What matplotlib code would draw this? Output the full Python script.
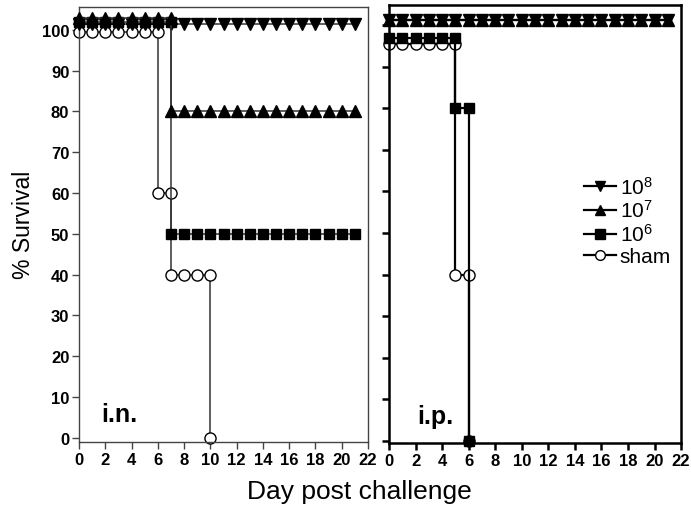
import matplotlib
matplotlib.use("Agg")
import matplotlib.pyplot as plt
from matplotlib.lines import Line2D

plt.rcParams['font.family'] = ['Liberation Sans', 'DejaVu Sans']
plt.rcParams['mathtext.default'] = 'regular'

# survival data, i.n. challenge (days, % survival; duplicate day = drop)
in_days_8 = list(range(0, 22))
in_surv_8 = [100] * 22
in_days_7 = list(range(0, 8)) + list(range(7, 22))
in_surv_7 = [100] * 8 + [80] * 15
in_days_6 = list(range(0, 8)) + list(range(7, 22))
in_surv_6 = [100] * 8 + [50] * 15
in_days_sham = [0, 1, 2, 3, 4, 5, 6, 6, 7, 7, 8, 9, 10, 10]
in_surv_sham = [100, 100, 100, 100, 100, 100, 100, 60, 60, 40, 40, 40, 40, 0]

# survival data, i.p. challenge
ip_days_8 = list(range(0, 22))
ip_surv_8 = [100] * 22
ip_days_7 = list(range(0, 22))
ip_surv_7 = [100] * 22
ip_days_6 = [0, 1, 2, 3, 4, 5, 5, 6, 6]
ip_surv_6 = [100, 100, 100, 100, 100, 100, 80, 80, 0]
ip_days_sham = [0, 1, 2, 3, 4, 5, 5, 6, 6]
ip_surv_sham = [100, 100, 100, 100, 100, 100, 40, 40, 0]

labels = ['$10^8$', '$10^7$', '$10^6$', 'sham']
markers = ['v', '^', 's', 'o']

# small vertical offsets so overlapping 100% curves stay visible
in_offsets = [1.5, 3.0, 2.0, -0.5]
ip_offsets = [1.2, 1.2, -3.2, -4.5]


def shift(vals, off):
    return [v + off if v == 100 else v for v in vals]


fig = plt.figure(figsize=(6.91, 5.10), dpi=100)
ax1 = fig.add_axes([0.1143, 0.1314, 0.4183, 0.853])
ax2 = fig.add_axes([0.5630, 0.1294, 0.4226, 0.8588])

tick_font = dict(family=['Liberation Sans Narrow', 'Liberation Sans', 'DejaVu Sans'],
                 weight='bold', size=12)


def draw(ax, series, offsets, lw, color, zorders):
    for (d, s), off, m, z in zip(series, offsets, markers, zorders):
        face = 'white' if m == 'o' else 'black'
        ax.plot(d, shift(s, off), color=color, lw=lw, marker=m, ms=8 if m != 's' else 7,
                mfc=face, mec='black', mew=1.0, zorder=z, clip_on=False)


draw(ax1, [(in_days_8, in_surv_8), (in_days_7, in_surv_7), (in_days_6, in_surv_6),
           (in_days_sham, in_surv_sham)], in_offsets, 1.1, '#333333', [4, 5, 3, 2])
draw(ax2, [(ip_days_8, ip_surv_8), (ip_days_7, ip_surv_7), (ip_days_6, ip_surv_6),
           (ip_days_sham, ip_surv_sham)], ip_offsets, 1.6, 'black', [4, 5, 3, 2])

for ax, col, lw in [(ax1, '#444444', 1.0), (ax2, 'black', 1.8)]:
    ax.set_xlim(0, 22)
    ax.set_xticks(range(0, 23, 2))
    ax.set_yticks(range(0, 101, 10))
    for sp in ax.spines.values():
        sp.set_color(col)
        sp.set_linewidth(lw)
    ax.tick_params(direction='out', length=5, width=lw, color=col, pad=2)
    for lab in ax.get_xticklabels() + ax.get_yticklabels():
        lab.set_fontproperties(tick_font)

ax1.set_ylim(-1, 105.6)
ax2.set_ylim(-0.5, 104.8)
ax2.set_yticklabels([])

ax1.text(3.1, 4.2, 'i.n.', fontsize=18, fontweight='bold', ha='center', va='baseline')
ax2.text(3.5, 4.3, 'i.p.', fontsize=18, fontweight='bold', ha='center', va='baseline')

handles = [Line2D([], [], color='black', lw=1.6, marker=m, ms=7 if m != 's' else 6.5,
                  mfc='white' if m == 'o' else 'black', mec='black') for m in markers]
ax2.legend(handles, labels, loc='upper left', bbox_to_anchor=(0.64, 0.63), frameon=False,
           fontsize=15, handlelength=1.5, handletextpad=0.2, labelspacing=0.1,
           borderaxespad=0)

fig.text(0.034, 0.56, '% Survival', rotation=90, fontsize=16.5, ha='center', va='center')
fig.text(0.52, 0.022, 'Day post challenge', fontsize=19, ha='center', va='baseline')

fig.savefig('out.png', dpi=100)
